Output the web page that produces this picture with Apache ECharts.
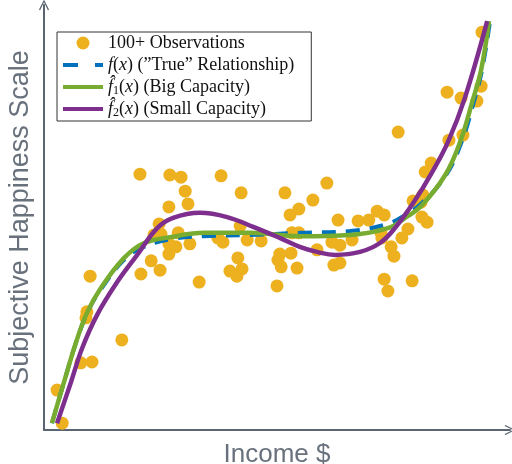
<!DOCTYPE html>
<html>
<head>
<meta charset="utf-8">
<script src="https://cdn.jsdelivr.net/npm/echarts@6/dist/echarts.min.js"></script>
<style>
  html, body { margin: 0; padding: 0; background: #fff; }
  #chart { width: 512px; height: 464px; }
</style>
</head>
<body>
<div id="chart"></div>
<script>
// observations (income, happiness), both on a 0-100 scale
const obsX = [3.9, 2.8, 7.9, 10.3, 16.7, 9.2, 9.0, 9.9, 20.8, 24.9, 23.0, 26.8, 26.8, 28.3, 31.3, 23.6, 25.1, 28.8, 24.7,
  26.8, 30.9, 30.3, 20.6, 27.0, 29.4, 38.0, 42.3, 33.3, 42.1, 37.3, 38.4, 43.6, 46.6, 41.6, 39.9, 42.5, 41.4, 51.7,
  60.7, 57.7, 54.7, 52.8, 63.1, 67.4, 69.7, 71.5, 73.0, 53.2, 54.7, 50.6, 53.0, 50.2, 50.9, 54.3, 50.0, 58.6, 61.8,
  63.5, 66.1, 62.2, 63.5, 72.3, 72.5, 78.1, 76.8, 74.5, 75.1, 73.0, 73.8, 79.0, 79.2, 80.9, 81.1, 82.2, 81.3, 81.8,
  83.1, 76.0, 86.9, 89.9, 86.5, 89.5, 93.8, 92.9, 94.0];
const obsY = [1.6, 9.4, 15.8, 16.0, 21.2, 27.8, 26.4, 36.2, 36.7, 37.6, 39.8, 41.4, 43.8, 43.1, 43.8, 45.9, 46.1, 46.4, 48.5,
  52.5, 53.2, 56.2, 60.2, 60.0, 59.5, 59.8, 55.8, 34.8, 48.0, 45.2, 44.2, 44.7, 44.5, 40.5, 37.4, 37.9, 36.2, 55.8,
  58.1, 54.1, 52.0, 50.6, 49.4, 49.2, 49.4, 51.5, 50.6, 46.4, 46.4, 41.4, 41.6, 40.0, 38.4, 38.1, 33.9, 42.4, 44.2,
  43.5, 44.7, 38.8, 39.3, 46.4, 45.2, 47.3, 45.2, 43.1, 40.9, 35.5, 32.7, 35.1, 53.9, 53.6, 50.1, 48.9, 55.3, 60.7,
  62.8, 70.1, 68.2, 69.4, 79.5, 78.1, 80.9, 77.4, 93.6];

// f(x), the "true" relationship
const trueX = [1.7, 4.3, 6.9, 9.4, 12.4, 17.6, 21.9, 27.3, 34.3, 44.2, 54.9, 65.7, 73.8, 77.5, 81.1, 86.3, 89.7, 92.3, 94.0, 95.7];
const trueY = [1.6, 11.3, 20.7, 27.8, 33.4, 40.5, 43.3, 44.9, 45.6, 45.9, 46.4, 46.8, 48.5, 50.6, 53.4, 60.0, 68.0, 77.4, 84.7, 96.0];

// big capacity fit
const bigX = [1.7, 4.3, 6.9, 9.2, 12.2, 17.2, 21.5, 27.3, 34.3, 44.2, 54.9, 65.7, 73.8, 77.5, 81.1, 86.1, 89.3, 91.9, 93.8, 95.5];
const bigY = [1.6, 11.3, 20.7, 27.5, 33.4, 40.5, 44.0, 45.4, 46.4, 46.4, 45.6, 45.9, 47.5, 49.9, 52.9, 60.0, 67.8, 77.2, 84.7, 96.2];

// small capacity fit
const smallX = [2.8, 5.8, 8.2, 11.4, 15.7, 20.0, 24.3, 27.7, 33.5, 39.3, 44.9, 50.6, 54.9, 58.6, 62.5, 67.8, 72.1, 75.3, 79.4, 83.3, 86.7, 90.3, 95.1];
const smallY = [1.6, 11.3, 19.3, 27.1, 34.8, 41.2, 47.5, 49.9, 51.1, 50.1, 47.8, 45.2, 43.1, 41.9, 41.2, 41.9, 44.0, 47.5, 53.7, 60.7, 67.8, 78.1, 96.2];

const zip = (xs, ys) => xs.map((x, i) => [x, ys[i]]);

const AXIS_COLOR = '#5b6572';
const chevron = 'path://M0,10 L5,0 L10,10 L9,10.8 L5,2.6 L1,10.8 Z';
const noSymbol = { opacity: 0 };

const chart = echarts.init(document.getElementById('chart'));
chart.setOption({
  animation: false,
  grid: { left: 44, right: 2, top: 5, bottom: 34, outerBoundsMode: 'none', containLabel: false },
  legend: {
    orient: 'vertical',
    left: 57,
    top: 32,
    padding: [1, 17, 2, 4],
    itemGap: 2,
    itemWidth: 40,
    itemHeight: 13,
    borderColor: '#333',
    borderWidth: 1,
    backgroundColor: '#fff',
    data: [
      'obs',
      { name: 'true', itemStyle: noSymbol, lineStyle: { width: 4, color: '#0072BD', type: [15, 17] } },
      { name: 'big', itemStyle: noSymbol, lineStyle: { width: 4, color: '#77AC30' } },
      { name: 'small', itemStyle: noSymbol, lineStyle: { width: 4, color: '#7E2F8E' } },
    ],
    formatter: (name) => ({
      obs: '100+ Observations',
      true: '{it|f}({it|x}) (\u201DTrue\u201D Relationship)',
      big: '{it|f\u0302}{sub|1}({it|x}) (Big Capacity)',
      small: '{it|f\u0302}{sub|2}({it|x}) (Small Capacity)',
    })[name],
    textStyle: {
      fontFamily: 'Liberation Serif',
      fontSize: 18,
      color: '#111',
      lineHeight: 20,
      rich: {
        it: { fontFamily: 'Liberation Serif', fontStyle: 'italic', fontSize: 18, color: '#111' },
        sub: { fontFamily: 'Liberation Serif', fontSize: 12, color: '#111', padding: [8, 0, 0, 0] },
      },
    },
  },
  xAxis: {
    type: 'value',
    min: 0,
    max: 100,
    name: 'Income $',
    nameLocation: 'middle',
    nameGap: 12,
    nameTextStyle: { fontFamily: 'Liberation Sans', fontSize: 26, color: '#68717c' },
    axisLine: {
      show: true,
      symbol: ['none', chevron],
      symbolSize: [10, 11],
      lineStyle: { color: AXIS_COLOR, width: 2 },
    },
    axisTick: { show: false },
    axisLabel: { show: false },
    splitLine: { show: false },
  },
  yAxis: {
    type: 'value',
    min: 0,
    max: 100,
    name: 'Subjective Happiness Scale',
    nameLocation: 'middle',
    nameRotate: 90,
    nameGap: 10,
    nameTextStyle: { fontFamily: 'Liberation Sans', fontSize: 27, color: '#68717c' },
    axisLine: {
      show: true,
      symbol: ['none', chevron],
      symbolSize: [10, 11],
      lineStyle: { color: AXIS_COLOR, width: 2 },
    },
    axisTick: { show: false },
    axisLabel: { show: false },
    splitLine: { show: false },
  },
  series: [
    {
      name: 'obs',
      type: 'scatter',
      symbol: 'circle',
      symbolSize: 13,
      itemStyle: { color: '#EDB120', opacity: 1 },
      data: zip(obsX, obsY),
      z: 1,
    },
    {
      name: 'true',
      type: 'line',
      smooth: 0.4,
      symbol: 'none',
      lineStyle: { color: '#0072BD', width: 4, type: [14, 10] },
      itemStyle: { color: '#0072BD' },
      data: zip(trueX, trueY),
      z: 2,
    },
    {
      name: 'big',
      type: 'line',
      smooth: 0.4,
      symbol: 'none',
      lineStyle: { color: '#77AC30', width: 4.5 },
      itemStyle: { color: '#77AC30' },
      data: zip(bigX, bigY),
      z: 3,
    },
    {
      name: 'small',
      type: 'line',
      smooth: 0.4,
      symbol: 'none',
      lineStyle: { color: '#7E2F8E', width: 4.5 },
      itemStyle: { color: '#7E2F8E' },
      data: zip(smallX, smallY),
      z: 4,
    },
  ],
});
</script>
</body>
</html>
